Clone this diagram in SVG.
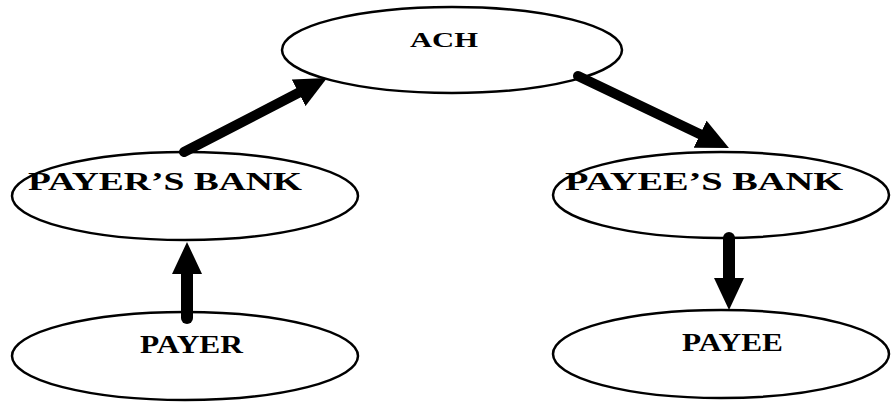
<svg xmlns="http://www.w3.org/2000/svg" width="891" height="402" viewBox="0 0 891 402">
  <style>
    .node ellipse { fill: #ffffff; stroke: #000000; stroke-width: 2.5; }
    .node text { font-family: "Liberation Serif", "Times New Roman", serif; font-weight: bold; fill: #000000; }
    .flow { stroke: #000000; fill: none; stroke-linecap: round; marker-end: url(#head); }
  </style>
  <defs>
    <marker id="head" viewBox="0 0 32 30" markerWidth="32" markerHeight="30" markerUnits="userSpaceOnUse" refX="0" refY="15" orient="auto">
      <path d="M0,0 L32,15 L0,30 z" fill="#000000"/>
    </marker>
  </defs>
  <rect x="0" y="0" width="891" height="402" fill="#ffffff"/>

  <g id="ach" class="node">
    <ellipse cx="452" cy="50" rx="170" ry="43"/>
    <text x="410" y="47" font-size="22" textLength="68" lengthAdjust="spacingAndGlyphs">ACH</text>
  </g>

  <g id="payers-bank" class="node">
    <ellipse cx="185" cy="196" rx="173" ry="44"/>
    <text x="28" y="190" font-size="26" textLength="274" lengthAdjust="spacingAndGlyphs">PAYER’S BANK</text>
  </g>

  <g id="payees-bank" class="node">
    <ellipse cx="721" cy="195" rx="168" ry="43"/>
    <text x="565" y="190" font-size="26" textLength="278" lengthAdjust="spacingAndGlyphs">PAYEE’S BANK</text>
  </g>

  <g id="payer" class="node">
    <ellipse cx="185" cy="356" rx="173" ry="44"/>
    <text x="140" y="353" font-size="25" textLength="103" lengthAdjust="spacingAndGlyphs">PAYER</text>
  </g>

  <g id="payee" class="node">
    <ellipse cx="721" cy="354" rx="168" ry="44"/>
    <text x="682" y="351" font-size="25" textLength="101" lengthAdjust="spacingAndGlyphs">PAYEE</text>
  </g>

  <g id="connectors">
    <line class="flow" x1="184" y1="152" x2="298.6" y2="92.8" stroke-width="10"/>
    <line class="flow" x1="578" y1="76" x2="700.1" y2="134.2" stroke-width="10"/>
    <line class="flow" x1="187" y1="318" x2="187" y2="274" stroke-width="12"/>
    <line class="flow" x1="729" y1="238" x2="729" y2="278" stroke-width="12"/>
  </g>
</svg>
